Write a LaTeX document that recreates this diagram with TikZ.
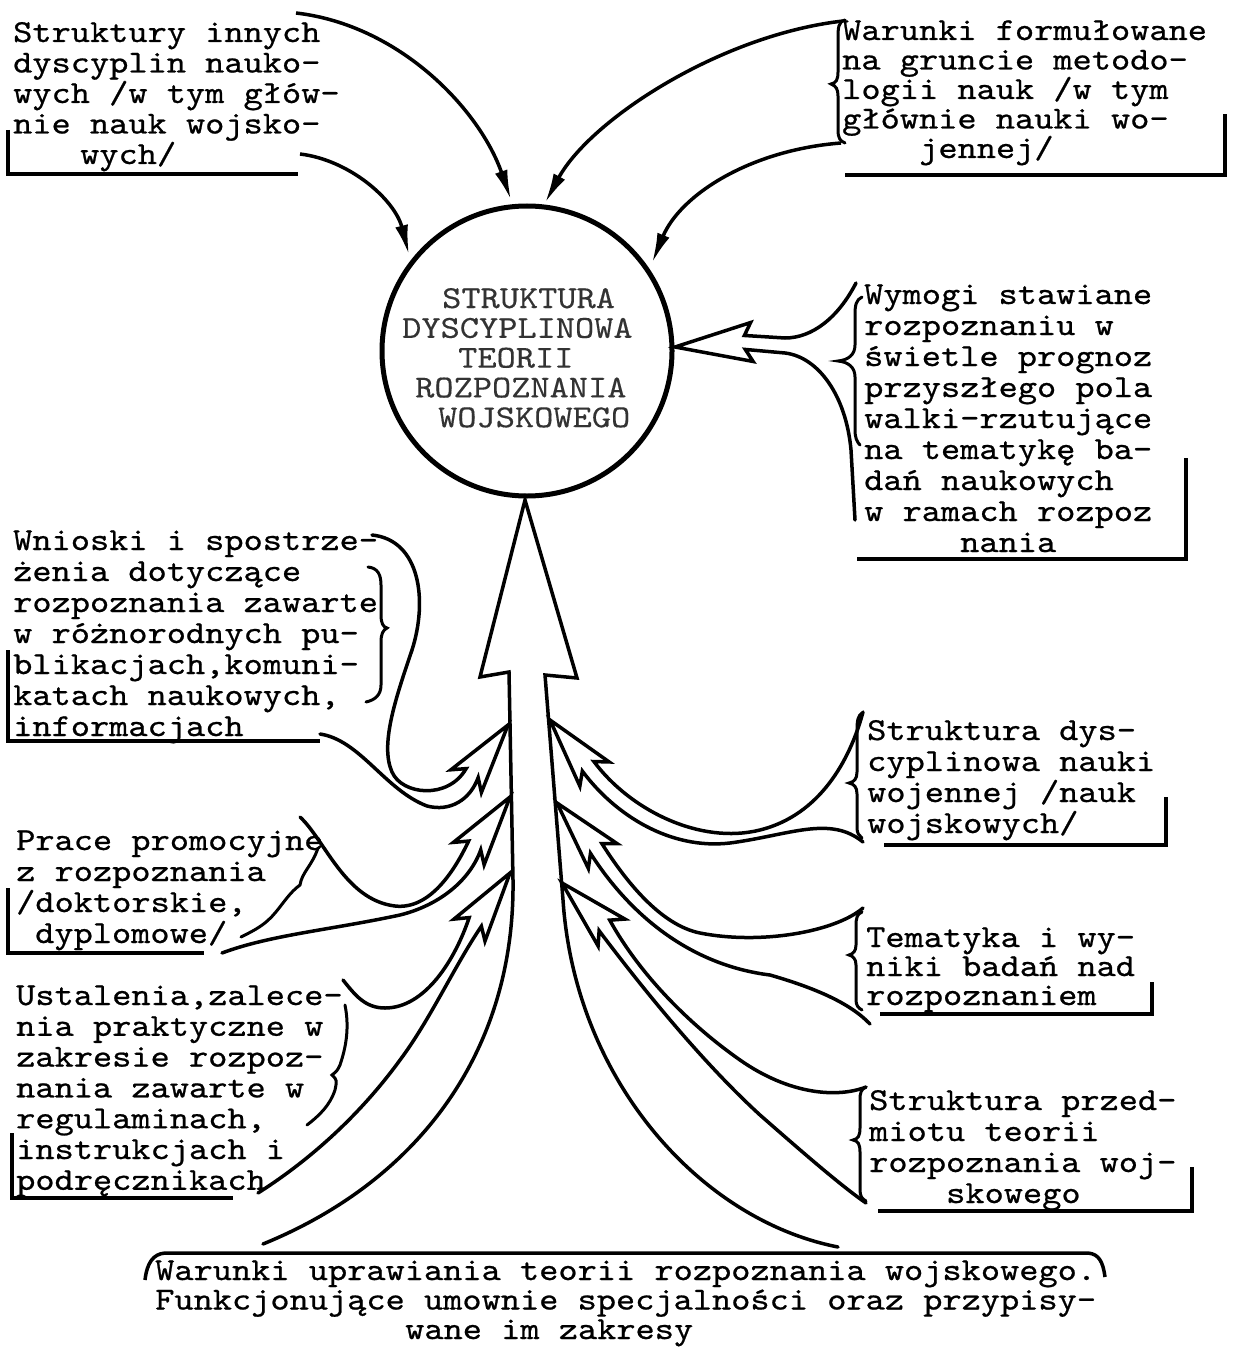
\documentclass[tikz,border=0pt]{standalone}
\usepackage{fontspec}
\usetikzlibrary{calc,arrows.meta}
\newfontfamily\twf{lmmono10-regular.otf}[FakeBold=0.7,FakeStretch=1.143]
\newfontfamily\twc{lmmono10-regular.otf}[FakeBold=0.3,FakeStretch=1.143]
\newcommand\tl[1]{\hbox{#1}}
\newcommand\tb[2]{\vtop{\baselineskip=#1\lineskiplimit=-200pt\relax #2}}
\newcommand\mkhead[7]{%
  \coordinate (#1-t) at #2;
  \coordinate (#1-b) at ($#2!#4!#3$);
  \coordinate (#1-n) at ($#2!#5!#3$);
  \coordinate (#1-bl) at ($(#1-b)!#6!90:(#1-t)$);
  \coordinate (#1-br) at ($(#1-b)!#6!-90:(#1-t)$);
  \coordinate (#1-nl) at ($(#1-n)!#7!90:(#1-t)$);
  \coordinate (#1-nr) at ($(#1-n)!#7!-90:(#1-t)$);
}
\tikzset{
  tw/.style={font=\twf\fontsize{32}{31}\selectfont, inner sep=0pt, anchor=base west},
  twcore/.style={font=\twc\fontsize{32}{30}\selectfont, inner sep=0pt, anchor=base west, text=black!80},
  ln/.style={line width=3.5pt, line cap=round, line join=miter},
  brk/.style={line width=3.5pt, line cap=butt, line join=miter},
  brc/.style={line width=3pt, line cap=round},
  tipped/.style={line width=3.5pt, -{Latex[length=30pt,width=13pt]}},
}
\begin{document}
\begin{tikzpicture}[x=1pt,y=-1pt]
\useasboundingbox (0,0) rectangle (1232,1348);
\fill[white] (0,0) rectangle (1232,1348);

% ---------- central circle ----------
\node[circle, draw, line width=5pt, minimum size=290pt, inner sep=0pt] (core) at (527,351) {};
\node[twcore] (coretext) at (402,308) {\tb{29.8pt}{%
  \tl{\hspace*{40pt}STRUKTURA}\tl{DYSCYPLINOWA}\tl{\hspace*{56pt}TEORII}%
  \tl{\hspace*{13pt}ROZPOZNANIA}\tl{\hspace*{36pt}WOJSKOWEGO}}};

% ---------- text blocks ----------
\node[tw] (tlbox) at (13,42) {\tb{30.5pt}{%
  \tl{Struktury innych}\tl{dyscyplin nauko-}\tl{wych /w tym głów-}%
  \tl{nie nauk wojsko-}\tl{\hspace*{67pt}wych/}}};
\node[tw] (trbox) at (842,40) {\tb{29.5pt}{%
  \tl{Warunki formułowane}\tl{na gruncie metodo-}\tl{logii nauk /w tym}%
  \tl{głównie nauki wo-}\tl{\hspace*{77pt}jennej/}}};
\node[tw] (wymbox) at (864,304) {\tb{31pt}{%
  \tl{Wymogi stawiane}\tl{rozpoznaniu w}\tl{świetle prognoz}%
  \tl{przyszłego pola}\tl{walki-rzutujące}\tl{na tematykę ba-}%
  \tl{dań naukowych}\tl{w ramach rozpoz}\tl{\hspace*{96pt}nania}}};
\node[tw] (wnibox) at (13,550) {\tb{31pt}{%
  \tl{Wnioski i spostrze-}\tl{żenia dotyczące}\tl{rozpoznania zawarte}%
  \tl{w różnorodnych pu-}\tl{blikacjach,komuni-}\tl{katach naukowych,}%
  \tl{informacjach}}};
\node[tw] (sdbox) at (867,740) {\tb{31pt}{%
  \tl{Struktura dys-}\tl{cyplinowa nauki}\tl{wojennej /nauk}\tl{wojskowych/}}};
\node[tw] (prbox) at (16,850) {\tb{31pt}{%
  \tl{Prace promocyjne}\tl{z rozpoznania}\tl{/doktorskie,}\tl{\hspace*{19pt}dyplomowe/}}};
\node[tw] (tembox) at (866,947) {\tb{29pt}{%
  \tl{Tematyka i wy-}\tl{niki badań nad}\tl{rozpoznaniem}}};
\node[tw] (ustbox) at (16,1005) {\tb{30.8pt}{%
  \tl{Ustalenia,zalece-}\tl{nia praktyczne w}\tl{zakresie rozpoz-}%
  \tl{nania zawarte w}\tl{regulaminach,}\tl{instrukcjach i}\tl{podręcznikach}}};
\node[tw] (spbox) at (869,1110) {\tb{31pt}{%
  \tl{Struktura przed-}\tl{miotu teorii}\tl{rozpoznania woj-}\tl{\hspace*{77pt}skowego}}};
\node[tw] (botbox) at (155,1280) {\tb{29.5pt}{%
  \tl{Warunki uprawiania teorii rozpoznania wojskowego.}%
  \tl{Funkcjonujące umownie specjalności oraz przypisy-}%
  \tl{\hspace*{250pt}wane im zakresy}}};

% ---------- box brackets ----------
\draw[brk] (8,130) -- (8,174) -- (298,174);
\draw[brk] (845,175) -- (1225,175) -- (1225,114);
\draw[brk] (857,559) -- (1186,559) -- (1186,458);
\draw[brk] (8,650) -- (8,741) -- (320,741);
\draw[brk] (884,845) -- (1166,845) -- (1166,797);
\draw[brk] (8,888) -- (8,953) -- (204,953);
\draw[brk] (880,1014) -- (1152,1014) -- (1152,982);
\draw[brk] (12,1133) -- (12,1198) -- (233,1198);
\draw[brk] (878,1211) -- (1192,1211) -- (1192,1167);
\draw[brk] (145,1280) .. controls (147,1263) and (153,1254) .. (165,1253) -- (1088,1253) .. controls (1099,1254) and (1103,1262) .. (1105,1277);

% ---------- braces ----------
\draw[brc] (845,20) .. controls (838,22) and (838,28) .. (838,40) -- (838,72) .. controls (838,80) and (836,83) .. (831,84) .. controls (836,86) and (838,89) .. (838,96) -- (838,130) .. controls (838,138) and (840,141) .. (845,143);
\draw[brc] (862,297) .. controls (856,300) and (855,305) .. (855,315) -- (855,345) .. controls (855,355) and (848,360) .. (838,361) .. controls (848,362) and (855,367) .. (855,377) -- (855,430) .. controls (855,438) and (857,442) .. (860,445);
\draw[brc] (368,567) .. controls (378,568) and (381,575) .. (381,585) -- (381,615) .. controls (381,623) and (383,627) .. (387,628) .. controls (383,630) and (381,634) .. (381,642) -- (381,685) .. controls (381,695) and (375,700) .. (366,702);
\draw[brc] (862,713) .. controls (858,716) and (857,720) .. (857,730) -- (857,772) .. controls (857,779) and (854,782) .. (849,783) .. controls (854,784) and (857,787) .. (857,794) -- (857,828) .. controls (857,833) and (859,836) .. (862,838);
\draw[brc] (862,912) .. controls (857,914) and (856,918) .. (856,926) -- (856,945) .. controls (856,951) and (853,954) .. (849,955) .. controls (853,956) and (856,959) .. (856,965) -- (856,1000) .. controls (856,1005) and (858,1008) .. (862,1010);
\draw[brc] (866,1087) .. controls (861,1089) and (860,1093) .. (860,1100) -- (860,1128) .. controls (860,1136) and (858,1139) .. (853,1140) .. controls (858,1141) and (860,1144) .. (860,1152) -- (860,1190) .. controls (860,1196) and (862,1199) .. (866,1201);
\draw[brc] (318,848) .. controls (312,866) and (302,872) .. (300,885) .. controls (290,892) and (282,905) .. (275,913) .. controls (265,925) and (255,930) .. (241,937);
\draw[brc] (345,1005) .. controls (350,1030) and (345,1050) .. (340,1065) .. controls (337,1071) .. (332,1075) .. controls (337,1080) .. (335,1090) .. controls (330,1105) and (320,1115) .. (307,1125);

% ---------- top arrows ----------
\draw[tipped] (296,13) .. controls (400,25) and (480,110) .. (511,200);
\draw[tipped] (300,154) .. controls (350,160) and (395,200) .. (409,255);
\draw[tipped] (843,21) .. controls (720,35) and (590,120) .. (545,203);
\draw[tipped] (841,143) .. controls (750,150) and (680,195) .. (652,263);

% ---------- big central arrow ----------
\draw[ln] (263,1244) .. controls (420,1180) and (515,1050) .. (513,880) -- (509,672) -- (480,677) -- (525,500) -- (577,678) -- (545,675) -- (563,900) .. controls (575,1080) and (700,1220) .. (838,1247);

% ---------- hollow funnel arrows ----------
\mkhead{E}{(675,347)}{(752,342)}{77pt}{70pt}{19.5pt}{7pt}
\draw[ln] (856,283) .. controls (838,318) and (812,338) .. (785,338) -- (E-nr) -- (E-br) -- (E-t) -- (E-bl) -- (E-nl) -- (785,353) .. controls (818,357) and (846,395) .. (851,450) -- (855,520);

\mkhead{L1}{(508,725)}{(467,780)}{70pt}{60pt}{19pt}{7.5pt}
\draw[ln] (372,535) .. controls (420,540) and (428,600) .. (412,650) .. controls (395,700) and (380,745) .. (392,772) .. controls (402,795) and (448,800) .. (L1-nl) -- (L1-bl) -- (L1-t) -- (L1-br) -- (L1-nr) .. controls (470,800) and (450,812) .. (427,806) .. controls (385,790) and (360,740) .. (320,734);

\mkhead{L2}{(510,797)}{(467,856)}{70pt}{60pt}{19pt}{7.5pt}
\draw[ln] (300,817) .. controls (325,840) and (345,900) .. (395,906) .. controls (430,910) and (455,870) .. (L2-nl) -- (L2-bl) -- (L2-t) -- (L2-br) -- (L2-nr) .. controls (470,880) and (440,905) .. (400,915) .. controls (330,930) and (270,935) .. (222,953);

\mkhead{L3}{(510,873)}{(466,935)}{70pt}{60pt}{19pt}{7.5pt}
\draw[ln] (343,980) .. controls (355,995) and (365,1008) .. (385,1008) .. controls (425,1008) and (455,960) .. (L3-nl) -- (L3-bl) -- (L3-t) -- (L3-br) -- (L3-nr) .. controls (455,965) and (430,1020) .. (400,1060) .. controls (360,1115) and (310,1160) .. (258,1193);

\mkhead{R1}{(550,720)}{(592,771)}{70pt}{60pt}{19pt}{7.5pt}
\draw[ln] (863,712) .. controls (850,760) and (820,815) .. (760,830) .. controls (700,845) and (630,810) .. (R1-nr) -- (R1-br) -- (R1-t) -- (R1-bl) -- (R1-nl) .. controls (615,815) and (670,850) .. (730,843) .. controls (790,835) and (830,815) .. (863,842);

\mkhead{R2}{(557,803)}{(607,861)}{70pt}{60pt}{19pt}{7.5pt}
\draw[ln] (863,908) .. controls (835,932) and (760,945) .. (700,933) .. controls (660,925) and (625,880) .. (R2-nr) -- (R2-br) -- (R2-t) -- (R2-bl) -- (R2-nl) .. controls (630,915) and (690,965) .. (770,975) .. controls (815,988) and (850,1003) .. (870,1024);

\mkhead{R3}{(562,883)}{(610,931)}{70pt}{60pt}{19pt}{7.5pt}
\draw[ln] (866,1087) .. controls (838,1098) and (790,1095) .. (740,1060) .. controls (690,1025) and (640,975) .. (R3-nr) -- (R3-br) -- (R3-t) -- (R3-bl) -- (R3-nl) .. controls (640,985) and (700,1060) .. (760,1115) .. controls (800,1150) and (840,1185) .. (866,1203);
\end{tikzpicture}
\end{document}
